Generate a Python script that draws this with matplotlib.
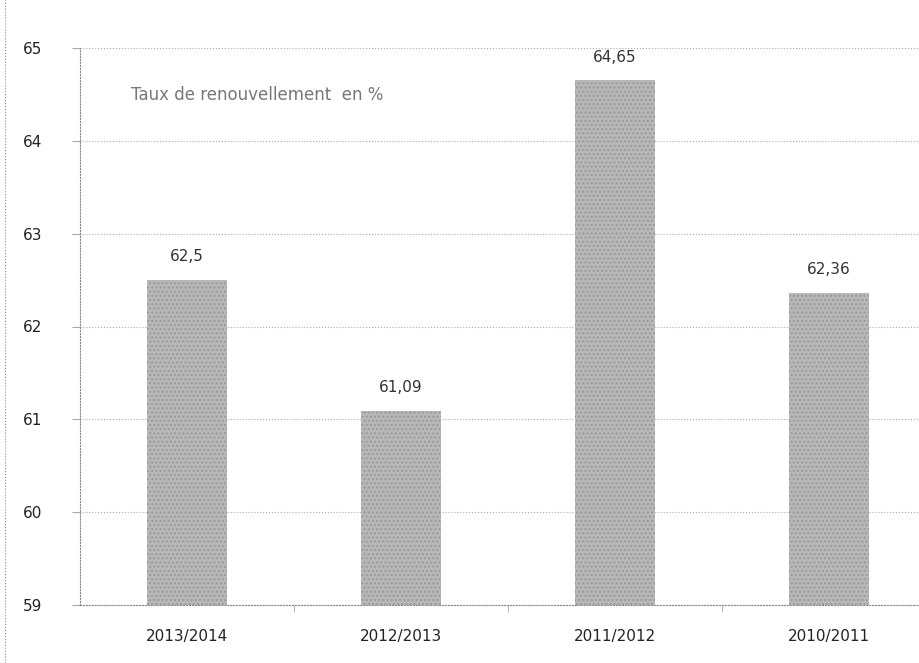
import numpy as np
import matplotlib
matplotlib.use("Agg")
import matplotlib.pyplot as plt

# data
categories = ["2013/2014", "2012/2013", "2011/2012", "2010/2011"]
values = [62.5, 61.09, 64.65, 62.36]
labels = ["62,5", "61,09", "64,65", "62,36"]
title = "Taux de renouvellement  en %"

plt.rcParams['font.family'] = ['DejaVu Sans']

fig = plt.figure(figsize=(9.2, 6.63), dpi=100)
ax = fig.add_axes([80 / 920, 1 - 605 / 663, 856 / 920, (605 - 48) / 663])

x = np.arange(len(categories))
ax.bar(x, values, width=0.375, bottom=0, color="#b8b8b8", edgecolor="#999999",
       hatch="....", linewidth=0, zorder=3)

for xi, v, lab in zip(x, values, labels):
    ax.text(xi, v + 0.17, lab, ha="center", va="bottom", fontsize=11, color="#333333")

ax.set_xlim(-0.5, len(categories) - 0.5)
ax.set_ylim(59, 65)
ax.set_yticks(range(59, 66))
ax.set_xticks(x)
ax.set_xticklabels(categories)
ax.set_xticks(np.arange(0.5, len(categories) - 0.5), minor=True)
ax.tick_params(axis="x", which="major", length=0, pad=17, labelsize=11, labelcolor="#222222")
ax.tick_params(axis="x", which="minor", length=5, color="#aaaaaa", width=0.6)
ax.tick_params(axis="y", length=6, labelsize=11, labelcolor="#222222", pad=21, color="#aaaaaa")

ax.grid(axis="y", linestyle=":", color="#aaaaaa", linewidth=0.8, zorder=0)
for s in ["top", "right"]:
    ax.spines[s].set_visible(False)
ax.spines["left"].set_linestyle(":")
ax.spines["left"].set_color("#888888")
ax.spines["bottom"].set_linestyle(":")
ax.spines["bottom"].set_color("#888888")

ax.text(0.06, 0.915, title, transform=ax.transAxes, fontsize=12, color="#777777",
        ha="left", va="center")

# left border of the picture
fig.add_artist(plt.Line2D([5 / 920, 5 / 920], [0, 1], transform=fig.transFigure,
                          linestyle=":", color="#888888", linewidth=0.8))

fig.savefig("out.png", dpi=100)
